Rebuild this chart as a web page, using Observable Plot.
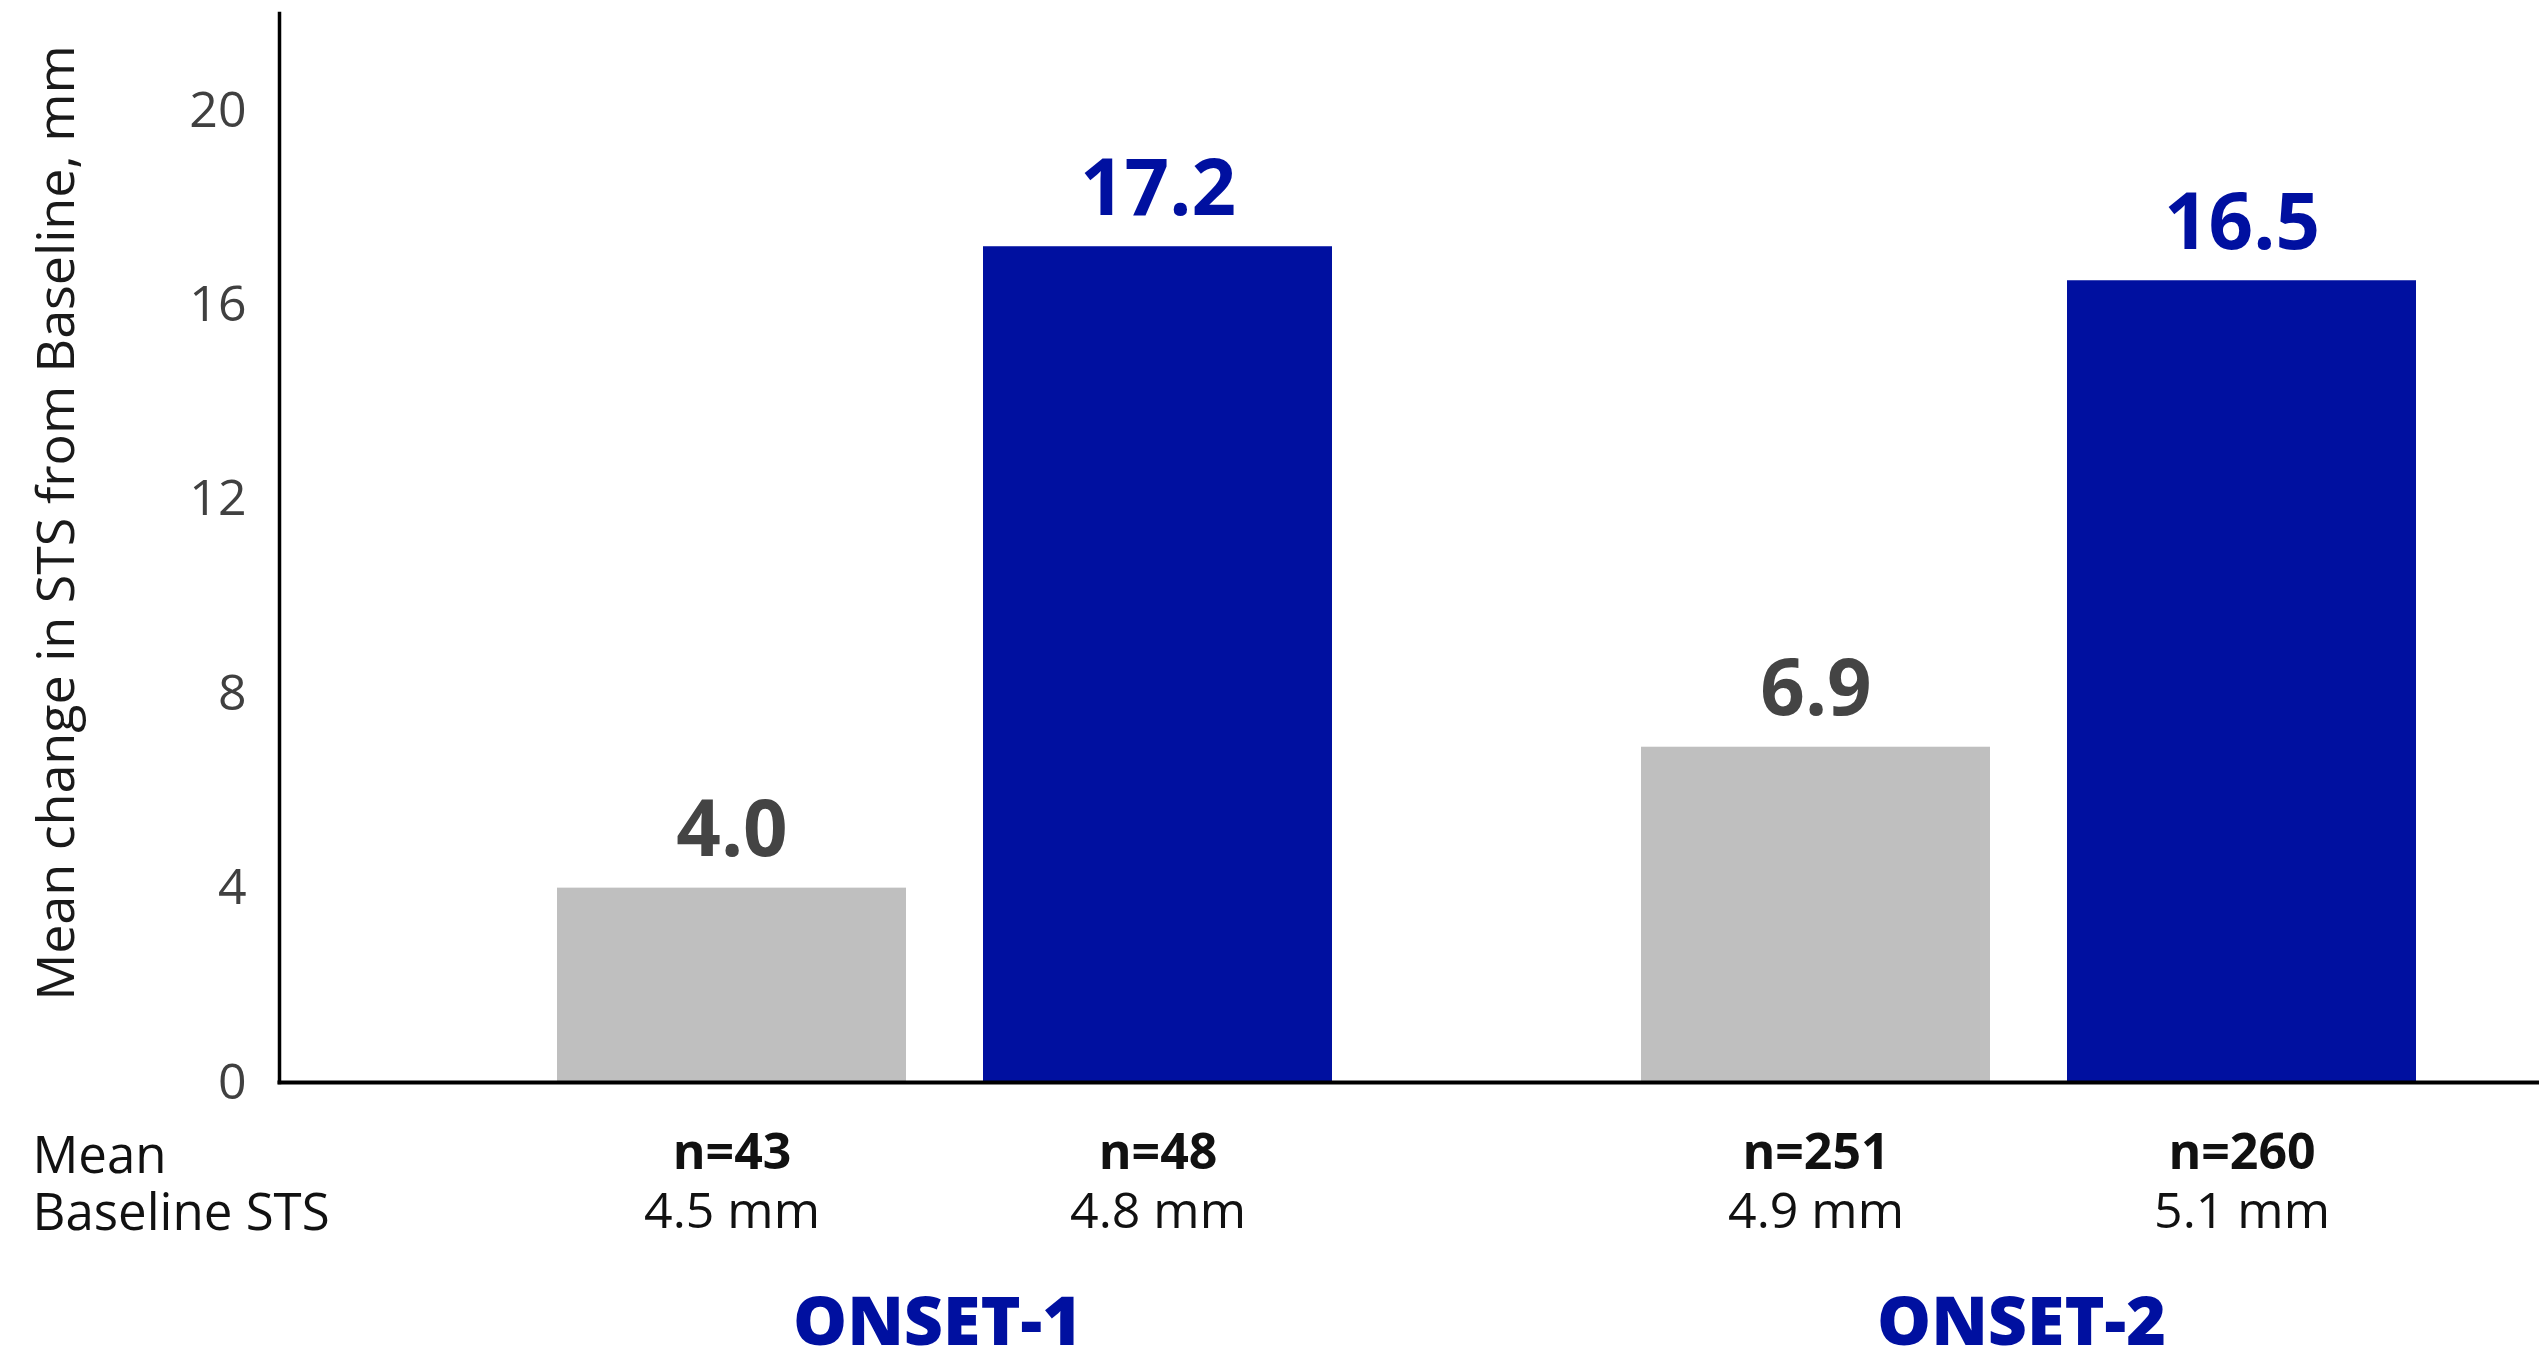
<!DOCTYPE html>
<html><head><meta charset="utf-8">
<script src="https://cdn.jsdelivr.net/npm/d3@7"></script>
<script src="https://cdn.jsdelivr.net/npm/@observablehq/plot@0.6"></script>
<style>html,body{margin:0;padding:0;background:#fff;} svg{display:block}</style>
</head><body><div id="chart"></div>
<script>
// Data
const trials = ["ONSET-1", "ONSET-2"];
const arms = ["Control", "Treatment"];
const barTrial = ["ONSET-1", "ONSET-1", "ONSET-2", "ONSET-2"];
const barArm = ["Control", "Treatment", "Control", "Treatment"];
const values = [4.0, 17.2, 6.9, 16.5];
const valueLabels = ["4.0", "17.2", "6.9", "16.5"];
const nLabels = ["n=43", "n=48", "n=251", "n=260"];
const baselineLabels = ["4.5 mm", "4.8 mm", "4.9 mm", "5.1 mm"];
const yTicks = [0, 4, 8, 12, 16, 20];
const yTitle = "Mean change in STS from Baseline, mm";
const rowTitle = "Mean\nBaseline STS";

const rows = values.map((v, i) => ({
  trial: barTrial[i], arm: barArm[i], value: v,
  label: valueLabels[i], n: nLabels[i], baseline: baselineLabels[i]
}));

const GREY = "#bfbfbf", BLUE = "#0010a0";
const FONT = "'Open Sans', sans-serif";
const W = 2539, LEFT = 279, STEP = 1084;
const FX_END = LEFT + 2 * STEP;

const chart = Plot.plot({
  width: W,
  height: 1361,
  marginTop: 13,
  marginLeft: LEFT,
  marginRight: W - FX_END,
  marginBottom: 279,
  style: {fontFamily: FONT, background: "#fff", overflow: "visible"},
  fx: {domain: trials, range: [LEFT, FX_END], padding: 0, axis: null, label: null},
  x: {domain: arms, paddingInner: 0.18, paddingOuter: 0.3623, align: 0.9, axis: null, label: null},
  y: {domain: [0, 22], axis: null},
  color: {domain: arms, range: [GREY, BLUE]},
  marks: [
    Plot.barY(rows, {fx: "trial", x: "arm", y: "value", fill: "arm"}),
    Plot.text(rows, {filter: d => d.arm === arms[0], fx: "trial", x: "arm", y: "value", text: "label",
      dy: -32, lineAnchor: "bottom", fontSize: 78, fontWeight: 700, fill: "#444444"}),
    Plot.text(rows, {filter: d => d.arm === arms[1], fx: "trial", x: "arm", y: "value", text: "label",
      dy: -32, lineAnchor: "bottom", fontSize: 78, fontWeight: 700, fill: BLUE}),
    Plot.text(rows, {fx: "trial", x: "arm", text: "n", frameAnchor: "bottom",
      dy: 70, lineAnchor: "middle", fontSize: 50, fontWeight: 700, fill: "#111"}),
    Plot.text(rows, {fx: "trial", x: "arm", text: "baseline", frameAnchor: "bottom",
      dy: 129, lineAnchor: "middle", fontSize: 50, fill: "#111"}),
    Plot.text(trials, {fx: d => d, text: d => d, frameAnchor: "bottom", dx: 116,
      dy: 241, lineAnchor: "middle", fontSize: 68, fontWeight: 800, fill: BLUE}),
    Plot.frame({facet: "super", anchor: "left", stroke: "#000", strokeWidth: 3.5}),
    Plot.frame({facet: "super", anchor: "bottom", insetRight: FX_END - W, stroke: "#000", strokeWidth: 4}),
    Plot.axisY(yTicks, {anchor: "left", tickSize: 0, tickPadding: 33,
      fontSize: 50, fill: "#404040", label: null}),
    Plot.text([yTitle], {facet: "super", text: d => d, frameAnchor: "left", textAnchor: "middle",
      rotate: -90, dx: -222, dy: -25, lineAnchor: "middle", fontSize: 52, fill: "#1a1a1a"}),
    Plot.text([rowTitle], {facet: "super", text: d => d, frameAnchor: "bottom-left",
      dx: -247, dy: 101, textAnchor: "start", lineAnchor: "middle", lineHeight: 1.1,
      fontSize: 51, fill: "#111"})
  ]
});
document.getElementById("chart").appendChild(chart);
</script>
</body></html>
